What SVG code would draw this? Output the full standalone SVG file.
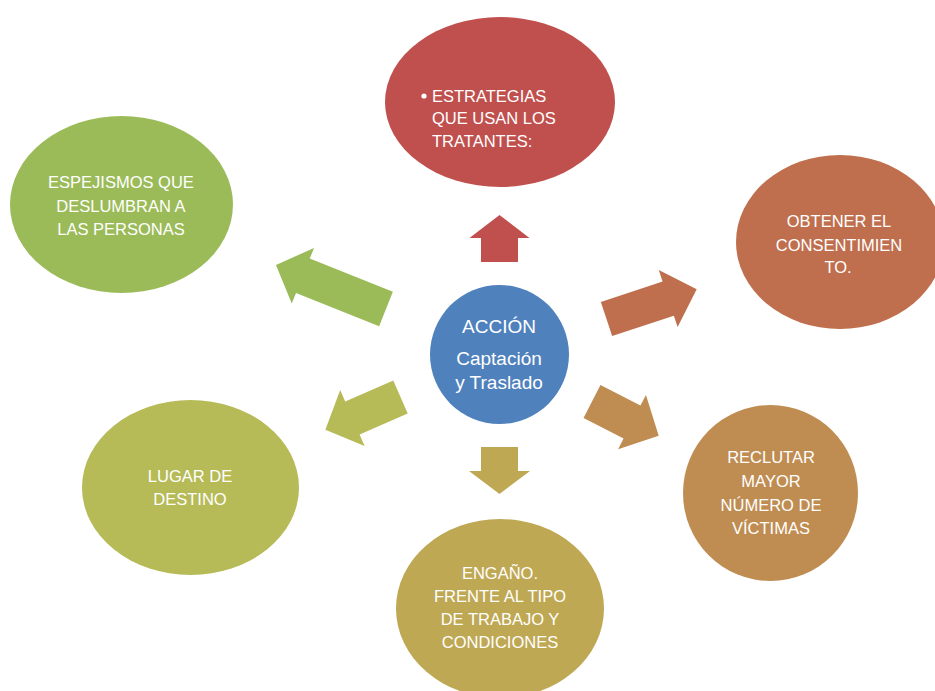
<svg xmlns="http://www.w3.org/2000/svg" width="935" height="691" viewBox="0 0 935 691">
<style>
  text { font-family: "Liberation Sans", Arial, sans-serif; fill: #ffffff; font-size: 16.5px; text-anchor: middle; }
  .c { font-size: 19px; }
  .l { text-anchor: start; }
</style>
<rect width="935" height="691" fill="#ffffff"/>
<g id="connectors">
  <polygon fill="#9BBB59" transform="translate(386,309) rotate(201.8)" points="0,-18.5 89.5,-18.5 89.5,-30 118.5,0 89.5,30 89.5,18.5 0,18.5"/>
  <polygon fill="#C0504D" transform="translate(499.5,262) rotate(-90)" points="0,-18.5 24,-18.5 24,-30 47,0 24,30 24,18.5 0,18.5"/>
  <polygon fill="#BF6F4E" transform="translate(606.5,319) rotate(-18.3)" points="0,-18 65,-18 65,-30 95,0 65,30 65,18 0,18"/>
  <polygon fill="#BF8D52" transform="translate(592,401.5) rotate(27.2)" points="0,-18.5 45,-18.5 45,-30.5 75,0 45,30.5 45,18.5 0,18.5"/>
  <polygon fill="#BFA853" transform="translate(499.5,447) rotate(90)" points="0,-18.5 24,-18.5 24,-30.5 47,0 24,30.5 24,18.5 0,18.5"/>
  <polygon fill="#B6BB58" transform="translate(400.5,397) rotate(156.4)" points="0,-18 52.5,-18 52.5,-30.5 82,0 52.5,30.5 52.5,18 0,18"/>
</g>
<g id="center">
  <circle cx="499.5" cy="354.5" r="69.5" fill="#4F81BD"/>
  <text class="c" x="499" y="333">ACCIÓN</text>
  <text class="c" x="499" y="365">Captación</text>
  <text class="c" x="499" y="389">y Traslado</text>
</g>
<g id="estrategias">
  <ellipse cx="500" cy="102" rx="115" ry="85" fill="#C0504D"/>
  <circle cx="424" cy="96" r="2.6" fill="#ffffff"/>
  <text class="l" x="432" y="102">ESTRATEGIAS</text>
  <text class="l" x="432" y="124">QUE USAN LOS</text>
  <text class="l" x="432" y="147">TRATANTES:</text>
</g>
<g id="espejismos">
  <ellipse cx="121.5" cy="204.5" rx="111.5" ry="88.5" fill="#9BBB59"/>
  <text x="121" y="188">ESPEJISMOS QUE</text>
  <text x="121" y="211.5">DESLUMBRAN A</text>
  <text x="121" y="235">LAS PERSONAS</text>
</g>
<g id="obtener">
  <ellipse cx="840" cy="242" rx="104" ry="87" fill="#BF6F4E"/>
  <text x="839" y="227">OBTENER EL</text>
  <text x="839" y="250.5">CONSENTIMIEN</text>
  <text x="838" y="273">TO.</text>
</g>
<g id="reclutar">
  <ellipse cx="770.5" cy="493" rx="87.5" ry="88" fill="#BF8D52"/>
  <text x="771" y="463">RECLUTAR</text>
  <text x="771" y="487">MAYOR</text>
  <text x="771" y="511">NÚMERO DE</text>
  <text x="771" y="534">VÍCTIMAS</text>
</g>
<g id="engano">
  <ellipse cx="500" cy="608.5" rx="104" ry="89.5" fill="#BFA853"/>
  <text x="500" y="579">ENGAÑO.</text>
  <text x="500" y="602">FRENTE AL TIPO</text>
  <text x="500" y="625">DE TRABAJO Y</text>
  <text x="500" y="648">CONDICIONES</text>
</g>
<g id="lugar">
  <ellipse cx="190.5" cy="487.5" rx="108.5" ry="87.5" fill="#B6BB58"/>
  <text x="190" y="482">LUGAR DE</text>
  <text x="190" y="505">DESTINO</text>
</g>
</svg>
